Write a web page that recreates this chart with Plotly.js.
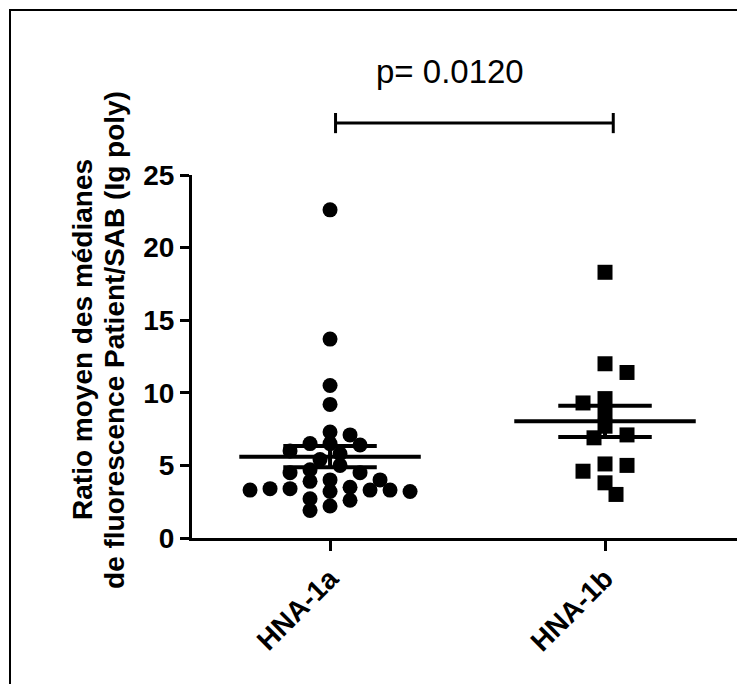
<!DOCTYPE html>
<html>
<head>
<meta charset="utf-8">
<script src="https://cdn.plot.ly/plotly-3.0.1.min.js"></script>
<style>
  html, body { margin: 0; padding: 0; background: #ffffff; }
  #chart { width: 737px; height: 684px; }
</style>
</head>
<body>
<div id="chart"></div>
<script>
// ---- data ----
const categories = ["HNA-1a", "HNA-1b"];
const hna1a = [22.6, 13.7, 10.5, 9.2, 7.3, 7.1, 6.5, 6.4, 6.5, 5.8, 6.0, 5.4, 5.0,
               4.5, 4.0, 3.9, 4.0, 4.5, 4.7, 3.3, 3.3, 3.2, 3.5, 3.4, 3.4, 2.7,
               3.2, 3.3, 2.6, 2.2, 1.9];
const hna1b = [18.3, 12.0, 11.4, 9.3, 9.6, 8.7, 7.7, 7.1, 6.9, 5.0, 5.1, 4.6, 3.8, 3.0];
const yTicks = [0, 5, 10, 15, 20, 25];
const pText = "p= 0.0120";
const yTitle1 = "Ratio moyen des médianes";
const yTitle2 = "de fluorescence Patient/SAB (Ig poly)";

// ---- layout geometry ----
const W = 737, H = 684;
const mL = 192, mR = 0, mT = 20, mB = 146;
const plotW = W - mL - mR, plotH = H - mT - mB;
const xRange = [0.498, 2.48];
const yRange = [0, 25];
const yDomTop = 363 / plotH;           // y axis spans 0..25
const pxPerX = plotW / (xRange[1] - xRange[0]);
const pxPerY = (yDomTop * plotH) / (yRange[1] - yRange[0]);

const FONT = "Arial, 'Liberation Sans', sans-serif";

// simple beeswarm (placed from the highest value down), half-step grid, elliptical collision
function swarm(vals, stepPx, rx, ry) {
  const order = vals.map((v, i) => i).sort((a, b) => vals[b] - vals[a]);
  const placed = [];
  const off = new Array(vals.length).fill(0);
  let left = 0, right = 0;
  for (const i of order) {
    const y = vals[i] * pxPerY;
    let chosen = null;
    for (let k = 0; k < 200 && chosen === null; k++) {
      let cands;
      if (k === 0) cands = [0];
      else cands = (right <= left) ? [k * stepPx, -k * stepPx] : [-k * stepPx, k * stepPx];
      for (const x of cands) {
        const ok = placed.every(p => ((p.x - x) / rx) ** 2 + ((p.y - y) / ry) ** 2 >= 1);
        if (ok) { chosen = x; break; }
      }
    }
    if (chosen > 0) right++; else if (chosen < 0) left++;
    placed.push({ x: chosen, y: y });
    off[i] = chosen / pxPerX;
  }
  return off;
}

function stats(v) {
  const n = v.length;
  const m = v.reduce((a, b) => a + b, 0) / n;
  const sd = Math.sqrt(v.reduce((a, b) => a + (b - m) ** 2, 0) / (n - 1));
  return { mean: m, sem: sd / Math.sqrt(n) };
}

function meanSemTrace(xc, v) {
  const s = stats(v);
  const hw = 0.33, sw = 0.17;
  return {
    type: "scatter", mode: "lines", hoverinfo: "skip", showlegend: false,
    x: [xc - hw, xc + hw, null, xc - sw, xc + sw, null, xc - sw, xc + sw, null, xc, xc],
    y: [s.mean, s.mean, null, s.mean + s.sem, s.mean + s.sem, null,
        s.mean - s.sem, s.mean - s.sem, null, s.mean - s.sem, s.mean + s.sem],
    line: { color: "#000000", width: 4 }
  };
}

const offA = swarm(hna1a, 10, 20, 11);
const offB = swarm(hna1b, 11, 22, 12);

const traces = [
  {
    type: "scatter", mode: "markers", showlegend: false,
    x: hna1a.map((v, i) => 1 + offA[i]), y: hna1a,
    marker: { symbol: "circle", size: 15, color: "#000000" }
  },
  {
    type: "scatter", mode: "markers", showlegend: false,
    x: hna1b.map((v, i) => 2 + offB[i]), y: hna1b,
    marker: { symbol: "square", size: 15, color: "#000000" }
  },
  meanSemTrace(1, hna1a),
  meanSemTrace(2, hna1b),
  // significance bracket (on the upper helper axis)
  {
    type: "scatter", mode: "lines", showlegend: false, hoverinfo: "skip",
    xaxis: "x", yaxis: "y2",
    x: [1.02, 1.02, null, 1.02, 2.03, null, 2.03, 2.03],
    y: [0.27, 0.40, null, 0.335, 0.335, null, 0.27, 0.40],
    line: { color: "#000000", width: 3 }
  }
];

const layout = {
  width: W, height: H,
  margin: { l: mL, r: mR, t: mT, b: mB, pad: 0 },
  paper_bgcolor: "#ffffff", plot_bgcolor: "#ffffff",
  showlegend: false,
  font: { family: FONT, color: "#000000" },
  xaxis: {
    range: xRange, anchor: "y",
    tickmode: "array", tickvals: [1, 2], ticktext: categories,
    tickangle: -45,
    tickfont: { family: FONT, size: 28, weight: "bold", color: "#000000" },
    showline: true, linecolor: "#000000", linewidth: 3,
    ticks: "outside", ticklen: 10, tickwidth: 3, tickcolor: "#000000",
    showgrid: false, zeroline: false
  },
  yaxis: {
    domain: [0, yDomTop], range: yRange, anchor: "x",
    tickmode: "array", tickvals: yTicks, ticktext: yTicks.map(String),
    tickfont: { family: FONT, size: 28, weight: "bold", color: "#000000" },
    showline: true, linecolor: "#000000", linewidth: 3,
    ticks: "outside", ticklen: 9, tickwidth: 3, tickcolor: "#000000",
    showgrid: false, zeroline: false
  },
  yaxis2: {
    domain: [yDomTop, 1], range: [0, 1], anchor: "x",
    visible: false, showgrid: false, zeroline: false
  },
  annotations: [
    {
      text: pText, xref: "x", yref: "y2", x: 1.436, y: 0.665,
      xanchor: "center", yanchor: "middle", showarrow: false,
      font: { family: FONT, size: 33, color: "#000000" }
    },
    {
      text: "<b>" + yTitle1 + "</b>", xref: "paper", yref: "y",
      x: (83 - mL) / plotW, y: 13.64, textangle: -90,
      xanchor: "center", yanchor: "middle", showarrow: false,
      font: { family: FONT, size: 28, color: "#000000" }
    },
    {
      text: "<b>" + yTitle2 + "</b>", xref: "paper", yref: "y",
      x: (115 - mL) / plotW, y: 13.64, textangle: -90,
      xanchor: "center", yanchor: "middle", showarrow: false,
      font: { family: FONT, size: 28, color: "#000000" }
    }
  ],
  shapes: [
    {
      type: "rect", xref: "paper", yref: "paper",
      x0: (10 - mL) / plotW, x1: (760 - mL) / plotW,
      y0: (538 - 700) / plotH, y1: (538 - 10) / plotH,
      line: { color: "#000000", width: 2 }, fillcolor: "rgba(0,0,0,0)", layer: "below"
    }
  ]
};

Plotly.newPlot("chart", traces, layout, { displayModeBar: false, staticPlot: true });
</script>
</body>
</html>
